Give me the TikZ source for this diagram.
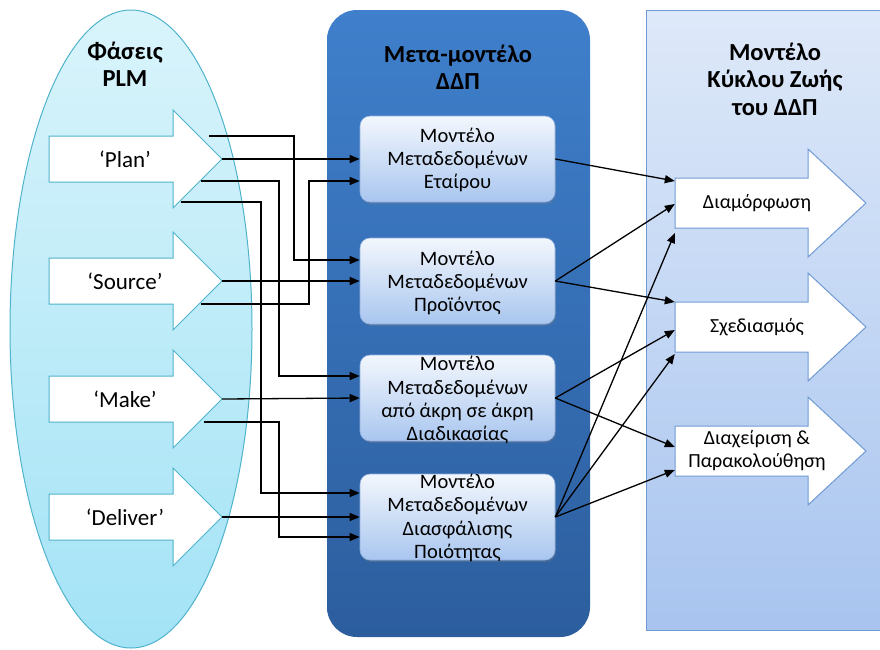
\documentclass[tikz,border=0pt]{standalone}
\usepackage{fontspec}
\setmainfont{Carlito}
\usetikzlibrary{arrows.meta,shadows}

\definecolor{plmTop}{HTML}{D9F4FB}
\definecolor{plmBot}{HTML}{A3E3F6}
\definecolor{plmLine}{HTML}{4FB3CB}
\definecolor{metaTop}{HTML}{3F7FCB}
\definecolor{metaBot}{HTML}{2C5E9E}
\definecolor{boxTop}{HTML}{F3F7FD}
\definecolor{boxBot}{HTML}{A9C6EF}
\definecolor{boxEdge}{HTML}{8FB0E0}
\definecolor{lifeTop}{HTML}{DEE9F9}
\definecolor{lifeBot}{HTML}{A8C4EF}
\definecolor{lifeLine}{HTML}{6F9AD3}

\begin{document}
\begin{tikzpicture}[x=1pt,y=-1pt,
  conn/.style={line width=1.3pt,-{Triangle[length=10pt,width=8pt]}},
  heading/.style={font=\fontsize{24.5}{27.5}\selectfont\bfseries,align=center,inner sep=0pt},
  box/.style={rectangle,rounded corners=10pt,minimum width=195pt,minimum height=86pt,
    inner sep=0pt,top color=boxTop,bottom color=boxBot,draw=boxEdge,line width=0.6pt,
    drop shadow={opacity=0.3,shadow xshift=1pt,shadow yshift=-2pt}},
  boxtext/.style={font=\fontsize{20.5}{23.2}\selectfont,align=center,inner sep=0pt},
  plmarrow/.style={fill=white,draw=plmLine,line width=1pt,line join=miter},
  plmlabel/.style={font=\fontsize{23}{26}\selectfont,inner sep=0pt},
  lifearrow/.style={fill=white,draw=lifeLine,line width=1pt,line join=miter},
  lifelabel/.style={font=\fontsize{20}{23}\selectfont,align=center,inner sep=0pt},
  port/.style={inner sep=0pt,minimum width=133pt,minimum height=50pt}]
\useasboundingbox (0,0) rectangle (880,649);

% PLM phases: the pale ellipse
\shade[top color=plmTop,bottom color=plmBot,draw=plmLine,line width=1pt]
  (131,329) ellipse [x radius=121,y radius=319];
\node[heading] (plmtitle) at (125,64) {Φάσεις\\PLM};

% Meta-model panel
\shade[top color=metaTop,bottom color=metaBot,rounded corners=30pt]
  (327,10) rectangle (590,637);
\node[heading] (metatitle) at (458,67) {Μετα-μοντέλο\\ΔΔΠ};

% Life-cycle panel (runs past the right edge)
\shade[top color=lifeTop,bottom color=lifeBot,draw=lifeLine,line width=1pt]
  (646,10) rectangle (900,630);
\node[heading] (lifetitle) at (775,79) {Μοντέλο\\Κύκλου Ζωής\\του ΔΔΠ};

% PLM phase arrows
\foreach \n/\c/\t in {plan/159/‘Plan’,src/281/‘Source’,make/399/‘Make’,del/517/‘Deliver’}{
  \draw[plmarrow] (49,\c-23) -- (173,\c-23) -- (173,\c-49) -- (222,\c)
    -- (173,\c+49) -- (173,\c+23) -- (49,\c+23) -- cycle;
  \node[plmlabel] (\n) at (125,\c) {\t};
  \coordinate (\n tip) at (222,\c);
}
\coordinate (planA) at (209,136);
\coordinate (planC) at (201,181);
\coordinate (planD) at (181,202);
\coordinate (srcE) at (201,304);
\coordinate (makeG) at (204,422);

% Life-cycle arrows
\foreach \n/\c/\t in {r1/203/Διαμόρφωση,r2/327/Σχεδιασμός,r3/451/{Διαχείριση \&\\Παρακολούθηση}}{
  \draw[lifearrow] (675,\c-25) -- (808,\c-25) -- (808,\c-54) -- (866,\c)
    -- (808,\c+54) -- (808,\c+25) -- (675,\c+25) -- cycle;
  \node[port] (\n) at (741.5,\c) {};
  \node[lifelabel] (\n t) at (757,\c) {\t};
}

% Metadata models
\node[box] (b1) at (457.5,159) {};
\node[box] (b2) at (457.5,281) {};
\node[box] (b3) at (457.5,398) {};
\node[box] (b4) at (457.5,517) {};
\node[boxtext] (b1t) at ([yshift=-1pt]b1) {Μοντέλο\\Μεταδεδομένων\\Εταίρου};
\node[boxtext] (b2t) at ([yshift=-2pt]b2) {Μοντέλο\\Μεταδεδομένων\\Προϊόντος};
\node[boxtext] (b3t) at ([yshift=-2pt]b3) {Μοντέλο\\Μεταδεδομένων\\από άκρη σε άκρη\\Διαδικασίας};
\node[boxtext] (b4t) at ([yshift=-1pt]b4) {Μοντέλο\\Μεταδεδομένων\\Διασφάλισης\\Ποιότητας};

% PLM phases -> metadata models
\draw[conn] (plantip) -- (b1.west);
\draw[conn] (planA) -- ++(85,0) |- ([yshift=21pt]b2.west);
\draw[conn] (planC) -- ++(78,0) |- ([yshift=22pt]b3.west);
\draw[conn] (planD) -- ++(80,0) |- ([yshift=24pt]b4.west);
\draw[conn] (srcE) -- ++(108,0) |- ([yshift=-22pt]b1.west);
\draw[conn] (srctip) -- (b2.west);
\draw[conn] (maketip) -- (b3.west);
\draw[conn] (makeG) -- ++(75,0) |- ([yshift=-20pt]b4.west);
\draw[conn] (deltip) -- (b4.west);

% Metadata models -> life-cycle phases
\draw[conn] (b1.east) -- ([yshift=22pt]r1.west);
\draw[conn] (b2.east) -- ([yshift=-1pt]r1.west);
\draw[conn] (b2.east) -- ([yshift=25pt]r2.west);
\draw[conn] (b3.east) -- ([yshift=-3pt]r2.west);
\draw[conn] (b3.east) -- ([yshift=4pt]r3.west);
\draw[conn] (b4.east) -- ([yshift=-30pt]r1.west);
\draw[conn] (b4.east) -- ([yshift=-27pt]r2.west);
\draw[conn] (b4.east) -- ([yshift=-19pt]r3.west);
\end{tikzpicture}
\end{document}
